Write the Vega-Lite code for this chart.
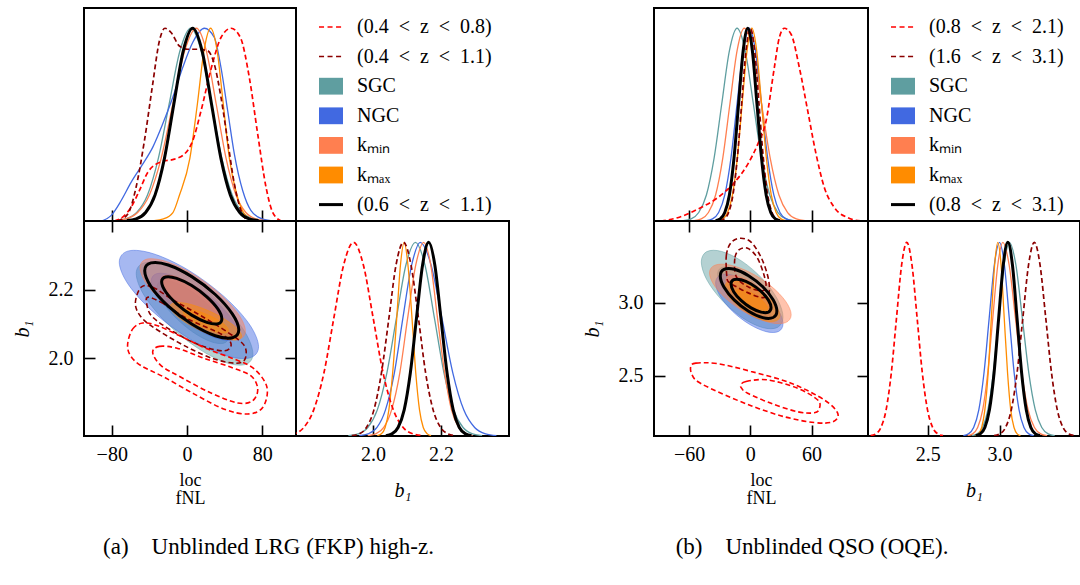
{
"$schema": "https://vega.github.io/schema/vega-lite/v6.json",
"padding": {"left": 11, "top": 7, "right": 0, "bottom": 0},
"background": "white",
"config": {
  "font": "Liberation Serif",
  "view": {"stroke": "black", "strokeWidth": 2},
  "axis": {"domain": false, "grid": false, "tickColor": "black", "tickWidth": 1.6, "tickSize": -11, "labelFont": "Liberation Serif", "labelFontSize": 20, "labelColor": "black", "labelPadding": 19, "titleFont": "Liberation Serif", "titleFontSize": 20, "titleFontWeight": "normal", "titleColor": "black"},
  "axisY": {"labelPadding": 22}
},
"datasets": {
"afn": [
{"s":"r","x":-77.2,"p":0},{"s":"r","x":-66.6,"p":0.028},{"s":"r","x":-59.5,"p":0.071},{"s":"r","x":-50.7,"p":0.157},{"s":"r","x":-41.8,"p":0.252},{"s":"r","x":-27.6,"p":0.307},{"s":"r","x":-13.5,"p":0.321},{"s":"r","x":-2.8,"p":0.347},{"s":"r","x":6,"p":0.416},{"s":"r","x":14.9,"p":0.572},{"s":"r","x":25.5,"p":0.788},{"s":"r","x":36.1,"p":0.952},{"s":"r","x":46.8,"p":1},{"s":"r","x":56.7,"p":0.952},{"s":"r","x":66.2,"p":0.744},{"s":"r","x":75.1,"p":0.451},{"s":"r","x":84,"p":0.174},{"s":"r","x":91,"p":0.045},{"s":"r","x":99.9,"p":0},
{"s":"d","x":-73.7,"p":0},{"s":"d","x":-63,"p":0.036},{"s":"d","x":-54.2,"p":0.174},{"s":"d","x":-45.3,"p":0.416},{"s":"d","x":-36.5,"p":0.71},{"s":"d","x":-29.4,"p":0.934},{"s":"d","x":-23.4,"p":1},{"s":"d","x":-17,"p":0.978},{"s":"d","x":-8.1,"p":0.908},{"s":"d","x":0.7,"p":0.891},{"s":"d","x":11.3,"p":0.891},{"s":"d","x":22,"p":0.883},{"s":"d","x":29,"p":0.813},{"s":"d","x":36.1,"p":0.641},{"s":"d","x":43.2,"p":0.416},{"s":"d","x":50.3,"p":0.192},{"s":"d","x":57.4,"p":0.054},{"s":"d","x":64.5,"p":0},
{"s":"S","x":-76.5,"p":0.002},{"s":"S","x":-65,"p":0.011},{"s":"S","x":-53.5,"p":0.044},{"s":"S","x":-42,"p":0.135},{"s":"S","x":-30.5,"p":0.325},{"s":"S","x":-19,"p":0.607},{"s":"S","x":-7.5,"p":0.883},{"s":"S","x":4,"p":1},{"s":"S","x":15,"p":0.883},{"s":"S","x":26,"p":0.607},{"s":"S","x":37,"p":0.325},{"s":"S","x":48,"p":0.135},{"s":"S","x":59,"p":0.044},{"s":"S","x":70,"p":0.011},{"s":"S","x":81,"p":0.002},
{"s":"N","x":-91.4,"p":0},{"s":"N","x":-80.8,"p":0.028},{"s":"N","x":-70.1,"p":0.105},{"s":"N","x":-59.5,"p":0.2},{"s":"N","x":-47.1,"p":0.295},{"s":"N","x":-36.5,"p":0.382},{"s":"N","x":-25.9,"p":0.503},{"s":"N","x":-15.2,"p":0.641},{"s":"N","x":-4.6,"p":0.796},{"s":"N","x":6,"p":0.926},{"s":"N","x":18.4,"p":1},{"s":"N","x":29,"p":0.952},{"s":"N","x":36.1,"p":0.796},{"s":"N","x":43.2,"p":0.572},{"s":"N","x":50.3,"p":0.347},{"s":"N","x":59.2,"p":0.157},{"s":"N","x":68,"p":0.054},{"s":"N","x":80.4,"p":0.01},{"s":"N","x":92.8,"p":0},
{"s":"n","x":-77.5,"p":0.002},{"s":"n","x":-65,"p":0.011},{"s":"n","x":-52.5,"p":0.044},{"s":"n","x":-40,"p":0.135},{"s":"n","x":-27.5,"p":0.325},{"s":"n","x":-15,"p":0.607},{"s":"n","x":-2.5,"p":0.883},{"s":"n","x":10,"p":1},{"s":"n","x":20.5,"p":0.883},{"s":"n","x":31,"p":0.607},{"s":"n","x":41.5,"p":0.325},{"s":"n","x":52,"p":0.135},{"s":"n","x":62.5,"p":0.044},{"s":"n","x":73,"p":0.011},{"s":"n","x":83.5,"p":0.002},
{"s":"m","x":-35,"p":0.002},{"s":"m","x":-25,"p":0.011},{"s":"m","x":-15,"p":0.044},{"s":"m","x":-8,"p":0.135},{"s":"m","x":3,"p":0.325},{"s":"m","x":11,"p":0.607},{"s":"m","x":18,"p":0.883},{"s":"m","x":25,"p":1},{"s":"m","x":32,"p":0.883},{"s":"m","x":38.5,"p":0.607},{"s":"m","x":45,"p":0.325},{"s":"m","x":53,"p":0.135},{"s":"m","x":60,"p":0.044},{"s":"m","x":67,"p":0.011},{"s":"m","x":74,"p":0.002},
{"s":"k","x":-64,"p":0.002},{"s":"k","x":-54,"p":0.011},{"s":"k","x":-44,"p":0.044},{"s":"k","x":-34,"p":0.135},{"s":"k","x":-24,"p":0.325},{"s":"k","x":-14,"p":0.607},{"s":"k","x":-4,"p":0.883},{"s":"k","x":6,"p":1},{"s":"k","x":16,"p":0.883},{"s":"k","x":26,"p":0.607},{"s":"k","x":36,"p":0.325},{"s":"k","x":46,"p":0.135},{"s":"k","x":56,"p":0.044},{"s":"k","x":66,"p":0.011},{"s":"k","x":76,"p":0.002}
],
"abn": [
{"s":"r","x":1.739,"p":0.002},{"s":"r","x":1.768,"p":0.011},{"s":"r","x":1.797,"p":0.044},{"s":"r","x":1.826,"p":0.135},{"s":"r","x":1.856,"p":0.325},{"s":"r","x":1.885,"p":0.607},{"s":"r","x":1.914,"p":0.883},{"s":"r","x":1.943,"p":1},{"s":"r","x":1.972,"p":0.883},{"s":"r","x":2.001,"p":0.607},{"s":"r","x":2.03,"p":0.325},{"s":"r","x":2.06,"p":0.135},{"s":"r","x":2.089,"p":0.044},{"s":"r","x":2.118,"p":0.011},{"s":"r","x":2.147,"p":0.002},
{"s":"d","x":1.938,"p":0.002},{"s":"d","x":1.96,"p":0.011},{"s":"d","x":1.981,"p":0.044},{"s":"d","x":2.003,"p":0.135},{"s":"d","x":2.025,"p":0.325},{"s":"d","x":2.047,"p":0.607},{"s":"d","x":2.068,"p":0.883},{"s":"d","x":2.09,"p":1},{"s":"d","x":2.112,"p":0.883},{"s":"d","x":2.134,"p":0.607},{"s":"d","x":2.155,"p":0.325},{"s":"d","x":2.177,"p":0.135},{"s":"d","x":2.199,"p":0.044},{"s":"d","x":2.221,"p":0.011},{"s":"d","x":2.242,"p":0.002},
{"s":"S","x":1.928,"p":0.002},{"s":"S","x":1.957,"p":0.011},{"s":"S","x":1.985,"p":0.044},{"s":"S","x":2.013,"p":0.135},{"s":"S","x":2.041,"p":0.325},{"s":"S","x":2.069,"p":0.607},{"s":"S","x":2.097,"p":0.883},{"s":"S","x":2.125,"p":1},{"s":"S","x":2.153,"p":0.883},{"s":"S","x":2.181,"p":0.607},{"s":"S","x":2.209,"p":0.325},{"s":"S","x":2.237,"p":0.135},{"s":"S","x":2.265,"p":0.044},{"s":"S","x":2.293,"p":0.011},{"s":"S","x":2.321,"p":0.002},
{"s":"N","x":1.96,"p":0.002},{"s":"N","x":1.986,"p":0.011},{"s":"N","x":2.012,"p":0.044},{"s":"N","x":2.037,"p":0.135},{"s":"N","x":2.063,"p":0.325},{"s":"N","x":2.088,"p":0.607},{"s":"N","x":2.114,"p":0.883},{"s":"N","x":2.139,"p":1},{"s":"N","x":2.171,"p":0.883},{"s":"N","x":2.203,"p":0.607},{"s":"N","x":2.235,"p":0.325},{"s":"N","x":2.267,"p":0.135},{"s":"N","x":2.299,"p":0.044},{"s":"N","x":2.331,"p":0.011},{"s":"N","x":2.363,"p":0.002},
{"s":"n","x":1.985,"p":0.002},{"s":"n","x":2.008,"p":0.011},{"s":"n","x":2.032,"p":0.044},{"s":"n","x":2.055,"p":0.135},{"s":"n","x":2.079,"p":0.325},{"s":"n","x":2.102,"p":0.607},{"s":"n","x":2.126,"p":0.883},{"s":"n","x":2.149,"p":1},{"s":"n","x":2.17,"p":0.883},{"s":"n","x":2.19,"p":0.607},{"s":"n","x":2.211,"p":0.325},{"s":"n","x":2.231,"p":0.135},{"s":"n","x":2.252,"p":0.044},{"s":"n","x":2.272,"p":0.011},{"s":"n","x":2.293,"p":0.002},
{"s":"m","x":2.013,"p":0.002},{"s":"m","x":2.025,"p":0.011},{"s":"m","x":2.036,"p":0.044},{"s":"m","x":2.047,"p":0.135},{"s":"m","x":2.058,"p":0.325},{"s":"m","x":2.07,"p":0.607},{"s":"m","x":2.081,"p":0.883},{"s":"m","x":2.092,"p":1},{"s":"m","x":2.103,"p":0.883},{"s":"m","x":2.115,"p":0.607},{"s":"m","x":2.126,"p":0.325},{"s":"m","x":2.137,"p":0.135},{"s":"m","x":2.148,"p":0.044},{"s":"m","x":2.16,"p":0.011},{"s":"m","x":2.171,"p":0.002},
{"s":"k","x":2.038,"p":0.002},{"s":"k","x":2.056,"p":0.011},{"s":"k","x":2.074,"p":0.044},{"s":"k","x":2.092,"p":0.135},{"s":"k","x":2.11,"p":0.325},{"s":"k","x":2.128,"p":0.607},{"s":"k","x":2.146,"p":0.883},{"s":"k","x":2.164,"p":1},{"s":"k","x":2.182,"p":0.883},{"s":"k","x":2.2,"p":0.607},{"s":"k","x":2.218,"p":0.325},{"s":"k","x":2.236,"p":0.135},{"s":"k","x":2.254,"p":0.044},{"s":"k","x":2.272,"p":0.011},{"s":"k","x":2.29,"p":0.002}
],
"acn": [
{"s":"S","l":"o","x":70,"y":2.013},{"s":"S","l":"o","x":61.7,"y":1.982},{"s":"S","l":"o","x":39,"y":1.99},{"s":"S","l":"o","x":8,"y":2.036},{"s":"S","l":"o","x":-23,"y":2.107},{"s":"S","l":"o","x":-45.7,"y":2.184},{"s":"S","l":"o","x":-54,"y":2.247},{"s":"S","l":"o","x":-45.7,"y":2.278},{"s":"S","l":"o","x":-23,"y":2.27},{"s":"S","l":"o","x":8,"y":2.224},{"s":"S","l":"o","x":39,"y":2.153},{"s":"S","l":"o","x":61.7,"y":2.076},
{"s":"S","l":"i","x":44,"y":2.063},{"s":"S","l":"i","x":38.9,"y":2.044},{"s":"S","l":"i","x":25,"y":2.049},{"s":"S","l":"i","x":6,"y":2.077},{"s":"S","l":"i","x":-13,"y":2.121},{"s":"S","l":"i","x":-26.9,"y":2.168},{"s":"S","l":"i","x":-32,"y":2.207},{"s":"S","l":"i","x":-26.9,"y":2.226},{"s":"S","l":"i","x":-13,"y":2.221},{"s":"S","l":"i","x":6,"y":2.193},{"s":"S","l":"i","x":25,"y":2.149},{"s":"S","l":"i","x":38.9,"y":2.102},
{"s":"N","l":"o","x":76,"y":2.034},{"s":"N","l":"o","x":66.1,"y":2.001},{"s":"N","l":"o","x":39,"y":2.01},{"s":"N","l":"o","x":2,"y":2.058},{"s":"N","l":"o","x":-35,"y":2.133},{"s":"N","l":"o","x":-62.1,"y":2.214},{"s":"N","l":"o","x":-72,"y":2.28},{"s":"N","l":"o","x":-62.1,"y":2.313},{"s":"N","l":"o","x":-35,"y":2.304},{"s":"N","l":"o","x":2,"y":2.256},{"s":"N","l":"o","x":39,"y":2.181},{"s":"N","l":"o","x":66.1,"y":2.1},
{"s":"N","l":"i","x":54,"y":2.074},{"s":"N","l":"i","x":47.8,"y":2.053},{"s":"N","l":"i","x":31,"y":2.059},{"s":"N","l":"i","x":8,"y":2.089},{"s":"N","l":"i","x":-15,"y":2.135},{"s":"N","l":"i","x":-31.8,"y":2.186},{"s":"N","l":"i","x":-38,"y":2.226},{"s":"N","l":"i","x":-31.8,"y":2.247},{"s":"N","l":"i","x":-15,"y":2.241},{"s":"N","l":"i","x":8,"y":2.211},{"s":"N","l":"i","x":31,"y":2.165},{"s":"N","l":"i","x":47.8,"y":2.114},
{"s":"n","l":"o","x":62,"y":2.08},{"s":"n","l":"o","x":54.5,"y":2.055},{"s":"n","l":"o","x":34,"y":2.062},{"s":"n","l":"o","x":6,"y":2.098},{"s":"n","l":"o","x":-22,"y":2.154},{"s":"n","l":"o","x":-42.5,"y":2.215},{"s":"n","l":"o","x":-50,"y":2.264},{"s":"n","l":"o","x":-42.5,"y":2.289},{"s":"n","l":"o","x":-22,"y":2.282},{"s":"n","l":"o","x":6,"y":2.246},{"s":"n","l":"o","x":34,"y":2.19},{"s":"n","l":"o","x":54.5,"y":2.129},
{"s":"n","l":"i","x":36,"y":2.125},{"s":"n","l":"i","x":31.7,"y":2.111},{"s":"n","l":"i","x":20,"y":2.115},{"s":"n","l":"i","x":4,"y":2.135},{"s":"n","l":"i","x":-12,"y":2.166},{"s":"n","l":"i","x":-23.7,"y":2.2},{"s":"n","l":"i","x":-28,"y":2.227},{"s":"n","l":"i","x":-23.7,"y":2.241},{"s":"n","l":"i","x":-12,"y":2.238},{"s":"n","l":"i","x":4,"y":2.217},{"s":"n","l":"i","x":20,"y":2.186},{"s":"n","l":"i","x":31.7,"y":2.152},
{"s":"m","l":"o","x":58,"y":2.065},{"s":"m","l":"o","x":52.9,"y":2.054},{"s":"m","l":"o","x":39,"y":2.057},{"s":"m","l":"o","x":20,"y":2.074},{"s":"m","l":"o","x":1,"y":2.1},{"s":"m","l":"o","x":-12.9,"y":2.128},{"s":"m","l":"o","x":-18,"y":2.151},{"s":"m","l":"o","x":-12.9,"y":2.162},{"s":"m","l":"o","x":1,"y":2.159},{"s":"m","l":"o","x":20,"y":2.142},{"s":"m","l":"o","x":39,"y":2.116},{"s":"m","l":"o","x":52.9,"y":2.088},
{"s":"m","l":"i","x":44,"y":2.082},{"s":"m","l":"i","x":40.8,"y":2.074},{"s":"m","l":"i","x":32,"y":2.076},{"s":"m","l":"i","x":20,"y":2.087},{"s":"m","l":"i","x":8,"y":2.103},{"s":"m","l":"i","x":-0.8,"y":2.12},{"s":"m","l":"i","x":-4,"y":2.135},{"s":"m","l":"i","x":-0.8,"y":2.142},{"s":"m","l":"i","x":8,"y":2.14},{"s":"m","l":"i","x":20,"y":2.129},{"s":"m","l":"i","x":32,"y":2.113},{"s":"m","l":"i","x":40.8,"y":2.096},
{"s":"d","l":"o","x":-48.9,"y":2.207},{"s":"d","l":"o","x":-36.5,"y":2.207},{"s":"d","l":"o","x":-13.5,"y":2.168},{"s":"d","l":"o","x":14.9,"y":2.124},{"s":"d","l":"o","x":43.2,"y":2.076},{"s":"d","l":"o","x":60.9,"y":2.037},{"s":"d","l":"o","x":61.6,"y":1.998},{"s":"d","l":"o","x":52.1,"y":1.986},{"s":"d","l":"o","x":29,"y":1.998},{"s":"d","l":"o","x":0.7,"y":2.032},{"s":"d","l":"o","x":-27.6,"y":2.076},{"s":"d","l":"o","x":-47.1,"y":2.115},{"s":"d","l":"o","x":-54.9,"y":2.158},
{"s":"d","l":"i","x":-41.8,"y":2.178},{"s":"d","l":"i","x":-27.6,"y":2.163},{"s":"d","l":"i","x":0.7,"y":2.115},{"s":"d","l":"i","x":36.1,"y":2.071},{"s":"d","l":"i","x":46.8,"y":2.042},{"s":"d","l":"i","x":39.7,"y":2.022},{"s":"d","l":"i","x":14.9,"y":2.037},{"s":"d","l":"i","x":-13.5,"y":2.076},{"s":"d","l":"i","x":-36.5,"y":2.12},{"s":"d","l":"i","x":-42.5,"y":2.154},
{"s":"r","l":"o","x":-63.1,"y":2.042},{"s":"r","l":"o","x":-57.7,"y":2.086},{"s":"r","l":"o","x":-47.1,"y":2.103},{"s":"r","l":"o","x":-31.2,"y":2.095},{"s":"r","l":"o","x":-6.4,"y":2.064},{"s":"r","l":"o","x":22,"y":2.027},{"s":"r","l":"o","x":50.3,"y":1.998},{"s":"r","l":"o","x":71.6,"y":1.969},{"s":"r","l":"o","x":85,"y":1.915},{"s":"r","l":"o","x":80.4,"y":1.857},{"s":"r","l":"o","x":64.5,"y":1.838},{"s":"r","l":"o","x":39.7,"y":1.852},{"s":"r","l":"o","x":7.8,"y":1.896},{"s":"r","l":"o","x":-24.1,"y":1.945},{"s":"r","l":"o","x":-48.9,"y":1.979},{"s":"r","l":"o","x":-60.2,"y":2.008},
{"s":"r","l":"i","x":-36.5,"y":2.017},{"s":"r","l":"i","x":-29.4,"y":2.035},{"s":"r","l":"i","x":-9.9,"y":2.029},{"s":"r","l":"i","x":18.4,"y":2.0},{"s":"r","l":"i","x":46.8,"y":1.974},{"s":"r","l":"i","x":68,"y":1.949},{"s":"r","l":"i","x":75.1,"y":1.911},{"s":"r","l":"i","x":69.8,"y":1.877},{"s":"r","l":"i","x":53.8,"y":1.87},{"s":"r","l":"i","x":25.5,"y":1.899},{"s":"r","l":"i","x":-6.4,"y":1.945},{"s":"r","l":"i","x":-27.6,"y":1.979},
{"s":"k","l":"o","x":55,"y":2.083},{"s":"k","l":"o","x":48.3,"y":2.06},{"s":"k","l":"o","x":30,"y":2.066},{"s":"k","l":"o","x":5,"y":2.1},{"s":"k","l":"o","x":-20,"y":2.152},{"s":"k","l":"o","x":-38.3,"y":2.209},{"s":"k","l":"o","x":-45,"y":2.255},{"s":"k","l":"o","x":-38.3,"y":2.278},{"s":"k","l":"o","x":-20,"y":2.272},{"s":"k","l":"o","x":5,"y":2.238},{"s":"k","l":"o","x":30,"y":2.186},{"s":"k","l":"o","x":48.3,"y":2.129},
{"s":"k","l":"i","x":37,"y":2.115},{"s":"k","l":"i","x":32.7,"y":2.101},{"s":"k","l":"i","x":21,"y":2.105},{"s":"k","l":"i","x":5,"y":2.126},{"s":"k","l":"i","x":-11,"y":2.159},{"s":"k","l":"i","x":-22.7,"y":2.194},{"s":"k","l":"i","x":-27,"y":2.223},{"s":"k","l":"i","x":-22.7,"y":2.237},{"s":"k","l":"i","x":-11,"y":2.233},{"s":"k","l":"i","x":5,"y":2.212},{"s":"k","l":"i","x":21,"y":2.179},{"s":"k","l":"i","x":32.7,"y":2.144}
],
"bfn": [
{"s":"r","x":-87.6,"p":0},{"s":"r","x":-71.2,"p":0.017},{"s":"r","x":-51.6,"p":0.061},{"s":"r","x":-32,"p":0.121},{"s":"r","x":-15.7,"p":0.199},{"s":"r","x":-2.6,"p":0.294},{"s":"r","x":7.2,"p":0.398},{"s":"r","x":15.4,"p":0.519},{"s":"r","x":23.5,"p":0.796},{"s":"r","x":28.4,"p":0.952},{"s":"r","x":33.3,"p":1},{"s":"r","x":39.9,"p":0.969},{"s":"r","x":48,"p":0.796},{"s":"r","x":56.2,"p":0.571},{"s":"r","x":64.4,"p":0.346},{"s":"r","x":72.5,"p":0.173},{"s":"r","x":82.4,"p":0.069},{"s":"r","x":95.4,"p":0.017},{"s":"r","x":108.5,"p":0},
{"s":"d","x":-29.75,"p":0.002},{"s":"d","x":-25.5,"p":0.011},{"s":"d","x":-21.25,"p":0.044},{"s":"d","x":-17,"p":0.135},{"s":"d","x":-12.75,"p":0.325},{"s":"d","x":-8.5,"p":0.607},{"s":"d","x":-4.25,"p":0.883},{"s":"d","x":0,"p":1},{"s":"d","x":4.25,"p":0.883},{"s":"d","x":8.5,"p":0.607},{"s":"d","x":12.75,"p":0.325},{"s":"d","x":17,"p":0.135},{"s":"d","x":21.25,"p":0.044},{"s":"d","x":25.5,"p":0.011},{"s":"d","x":29.75,"p":0.002},
{"s":"S","x":-65.5,"p":0.002},{"s":"S","x":-58,"p":0.011},{"s":"S","x":-50.5,"p":0.044},{"s":"S","x":-43,"p":0.135},{"s":"S","x":-35.5,"p":0.325},{"s":"S","x":-28,"p":0.607},{"s":"S","x":-20.5,"p":0.883},{"s":"S","x":-13,"p":1},{"s":"S","x":-5,"p":0.883},{"s":"S","x":3,"p":0.607},{"s":"S","x":11,"p":0.325},{"s":"S","x":19,"p":0.135},{"s":"S","x":27,"p":0.044},{"s":"S","x":35,"p":0.011},{"s":"S","x":43,"p":0.002},
{"s":"N","x":-43,"p":0.002},{"s":"N","x":-37,"p":0.011},{"s":"N","x":-31,"p":0.044},{"s":"N","x":-25,"p":0.135},{"s":"N","x":-19,"p":0.325},{"s":"N","x":-13,"p":0.607},{"s":"N","x":-7,"p":0.883},{"s":"N","x":-1,"p":1},{"s":"N","x":5,"p":0.883},{"s":"N","x":11,"p":0.607},{"s":"N","x":17,"p":0.325},{"s":"N","x":23,"p":0.135},{"s":"N","x":29,"p":0.044},{"s":"N","x":35,"p":0.011},{"s":"N","x":41,"p":0.002},
{"s":"n","x":-55,"p":0.002},{"s":"n","x":-48,"p":0.011},{"s":"n","x":-41,"p":0.044},{"s":"n","x":-34,"p":0.135},{"s":"n","x":-27,"p":0.325},{"s":"n","x":-20,"p":0.607},{"s":"n","x":-13,"p":0.883},{"s":"n","x":-6,"p":1},{"s":"n","x":2.5,"p":0.883},{"s":"n","x":11,"p":0.607},{"s":"n","x":19.5,"p":0.325},{"s":"n","x":28,"p":0.135},{"s":"n","x":36.5,"p":0.044},{"s":"n","x":45,"p":0.011},{"s":"n","x":53.5,"p":0.002},
{"s":"m","x":-31.75,"p":0.002},{"s":"m","x":-27,"p":0.011},{"s":"m","x":-22.25,"p":0.044},{"s":"m","x":-17.5,"p":0.135},{"s":"m","x":-12.75,"p":0.325},{"s":"m","x":-8,"p":0.607},{"s":"m","x":-3.25,"p":0.883},{"s":"m","x":1.5,"p":1},{"s":"m","x":6.25,"p":0.883},{"s":"m","x":11,"p":0.607},{"s":"m","x":15.75,"p":0.325},{"s":"m","x":20.5,"p":0.135},{"s":"m","x":25.25,"p":0.044},{"s":"m","x":30,"p":0.011},{"s":"m","x":34.75,"p":0.002},
{"s":"k","x":-34,"p":0.002},{"s":"k","x":-29.5,"p":0.011},{"s":"k","x":-25,"p":0.044},{"s":"k","x":-20.5,"p":0.135},{"s":"k","x":-16,"p":0.325},{"s":"k","x":-11.5,"p":0.607},{"s":"k","x":-7,"p":0.883},{"s":"k","x":-2.5,"p":1},{"s":"k","x":2,"p":0.883},{"s":"k","x":6.5,"p":0.607},{"s":"k","x":11,"p":0.325},{"s":"k","x":15.5,"p":0.135},{"s":"k","x":20,"p":0.044},{"s":"k","x":24.5,"p":0.011},{"s":"k","x":29,"p":0.002}
],
"bbn": [
{"s":"r","x":2.103,"p":0.002},{"s":"r","x":2.139,"p":0.011},{"s":"r","x":2.175,"p":0.044},{"s":"r","x":2.211,"p":0.135},{"s":"r","x":2.247,"p":0.325},{"s":"r","x":2.283,"p":0.607},{"s":"r","x":2.319,"p":0.883},{"s":"r","x":2.355,"p":1},{"s":"r","x":2.391,"p":0.883},{"s":"r","x":2.427,"p":0.607},{"s":"r","x":2.463,"p":0.325},{"s":"r","x":2.499,"p":0.135},{"s":"r","x":2.535,"p":0.044},{"s":"r","x":2.571,"p":0.011},{"s":"r","x":2.607,"p":0.002},
{"s":"d","x":2.962,"p":0.002},{"s":"d","x":3.002,"p":0.011},{"s":"d","x":3.042,"p":0.044},{"s":"d","x":3.082,"p":0.135},{"s":"d","x":3.122,"p":0.325},{"s":"d","x":3.162,"p":0.607},{"s":"d","x":3.202,"p":0.883},{"s":"d","x":3.242,"p":1},{"s":"d","x":3.282,"p":0.883},{"s":"d","x":3.322,"p":0.607},{"s":"d","x":3.362,"p":0.325},{"s":"d","x":3.402,"p":0.135},{"s":"d","x":3.442,"p":0.044},{"s":"d","x":3.482,"p":0.011},{"s":"d","x":3.522,"p":0.002},
{"s":"S","x":2.807,"p":0.002},{"s":"S","x":2.844,"p":0.011},{"s":"S","x":2.882,"p":0.044},{"s":"S","x":2.919,"p":0.135},{"s":"S","x":2.957,"p":0.325},{"s":"S","x":2.994,"p":0.607},{"s":"S","x":3.032,"p":0.883},{"s":"S","x":3.069,"p":1},{"s":"S","x":3.114,"p":0.883},{"s":"S","x":3.159,"p":0.607},{"s":"S","x":3.204,"p":0.325},{"s":"S","x":3.249,"p":0.135},{"s":"S","x":3.294,"p":0.044},{"s":"S","x":3.339,"p":0.011},{"s":"S","x":3.384,"p":0.002},
{"s":"N","x":2.748,"p":0.002},{"s":"N","x":2.784,"p":0.011},{"s":"N","x":2.82,"p":0.044},{"s":"N","x":2.856,"p":0.135},{"s":"N","x":2.892,"p":0.325},{"s":"N","x":2.928,"p":0.607},{"s":"N","x":2.964,"p":0.883},{"s":"N","x":3.0,"p":1},{"s":"N","x":3.034,"p":0.883},{"s":"N","x":3.068,"p":0.607},{"s":"N","x":3.102,"p":0.325},{"s":"N","x":3.136,"p":0.135},{"s":"N","x":3.17,"p":0.044},{"s":"N","x":3.204,"p":0.011},{"s":"N","x":3.238,"p":0.002},
{"s":"n","x":2.778,"p":0.002},{"s":"n","x":2.813,"p":0.011},{"s":"n","x":2.848,"p":0.044},{"s":"n","x":2.883,"p":0.135},{"s":"n","x":2.918,"p":0.325},{"s":"n","x":2.953,"p":0.607},{"s":"n","x":2.988,"p":0.883},{"s":"n","x":3.023,"p":1},{"s":"n","x":3.067,"p":0.883},{"s":"n","x":3.111,"p":0.607},{"s":"n","x":3.155,"p":0.325},{"s":"n","x":3.199,"p":0.135},{"s":"n","x":3.243,"p":0.044},{"s":"n","x":3.287,"p":0.011},{"s":"n","x":3.331,"p":0.002},
{"s":"m","x":2.831,"p":0.002},{"s":"m","x":2.853,"p":0.011},{"s":"m","x":2.876,"p":0.044},{"s":"m","x":2.898,"p":0.135},{"s":"m","x":2.921,"p":0.325},{"s":"m","x":2.943,"p":0.607},{"s":"m","x":2.966,"p":0.883},{"s":"m","x":2.988,"p":1},{"s":"m","x":3.011,"p":0.883},{"s":"m","x":3.033,"p":0.607},{"s":"m","x":3.056,"p":0.325},{"s":"m","x":3.078,"p":0.135},{"s":"m","x":3.101,"p":0.044},{"s":"m","x":3.123,"p":0.011},{"s":"m","x":3.146,"p":0.002},
{"s":"k","x":2.834,"p":0.002},{"s":"k","x":2.866,"p":0.011},{"s":"k","x":2.898,"p":0.044},{"s":"k","x":2.93,"p":0.135},{"s":"k","x":2.962,"p":0.325},{"s":"k","x":2.994,"p":0.607},{"s":"k","x":3.026,"p":0.883},{"s":"k","x":3.058,"p":1},{"s":"k","x":3.09,"p":0.883},{"s":"k","x":3.122,"p":0.607},{"s":"k","x":3.154,"p":0.325},{"s":"k","x":3.186,"p":0.135},{"s":"k","x":3.218,"p":0.044},{"s":"k","x":3.25,"p":0.011},{"s":"k","x":3.282,"p":0.002}
],
"bcn": [
{"s":"S","l":"o","x":32,"y":2.901},{"s":"S","l":"o","x":26.6,"y":2.83},{"s":"S","l":"o","x":12,"y":2.829},{"s":"S","l":"o","x":-8,"y":2.897},{"s":"S","l":"o","x":-28,"y":3.018},{"s":"S","l":"o","x":-42.6,"y":3.157},{"s":"S","l":"o","x":-48,"y":3.279},{"s":"S","l":"o","x":-42.6,"y":3.35},{"s":"S","l":"o","x":-28,"y":3.351},{"s":"S","l":"o","x":-8,"y":3.283},{"s":"S","l":"o","x":12,"y":3.162},{"s":"S","l":"o","x":26.6,"y":3.023},
{"s":"S","l":"i","x":18,"y":2.965},{"s":"S","l":"i","x":14.65,"y":2.921},{"s":"S","l":"i","x":5.5,"y":2.92},{"s":"S","l":"i","x":-7,"y":2.962},{"s":"S","l":"i","x":-19.5,"y":3.036},{"s":"S","l":"i","x":-28.65,"y":3.121},{"s":"S","l":"i","x":-32,"y":3.196},{"s":"S","l":"i","x":-28.65,"y":3.239},{"s":"S","l":"i","x":-19.5,"y":3.24},{"s":"S","l":"i","x":-7,"y":3.198},{"s":"S","l":"i","x":5.5,"y":3.124},{"s":"S","l":"i","x":14.65,"y":3.039},
{"s":"N","l":"o","x":32,"y":2.855},{"s":"N","l":"o","x":27.6,"y":2.802},{"s":"N","l":"o","x":15.5,"y":2.801},{"s":"N","l":"o","x":-1,"y":2.852},{"s":"N","l":"o","x":-17.5,"y":2.941},{"s":"N","l":"o","x":-29.6,"y":3.045},{"s":"N","l":"o","x":-34,"y":3.135},{"s":"N","l":"o","x":-29.6,"y":3.188},{"s":"N","l":"o","x":-17.5,"y":3.189},{"s":"N","l":"o","x":-1,"y":3.138},{"s":"N","l":"o","x":15.5,"y":3.049},{"s":"N","l":"o","x":27.6,"y":2.945},
{"s":"N","l":"i","x":20,"y":2.916},{"s":"N","l":"i","x":17.3,"y":2.884},{"s":"N","l":"i","x":10,"y":2.884},{"s":"N","l":"i","x":0,"y":2.914},{"s":"N","l":"i","x":-10,"y":2.968},{"s":"N","l":"i","x":-17.3,"y":3.03},{"s":"N","l":"i","x":-20,"y":3.084},{"s":"N","l":"i","x":-17.3,"y":3.116},{"s":"N","l":"i","x":-10,"y":3.116},{"s":"N","l":"i","x":0,"y":3.086},{"s":"N","l":"i","x":10,"y":3.032},{"s":"N","l":"i","x":17.3,"y":2.97},
{"s":"n","l":"o","x":40,"y":2.917},{"s":"n","l":"o","x":34.6,"y":2.863},{"s":"n","l":"o","x":20,"y":2.862},{"s":"n","l":"o","x":0,"y":2.914},{"s":"n","l":"o","x":-20,"y":3.005},{"s":"n","l":"o","x":-34.6,"y":3.111},{"s":"n","l":"o","x":-40,"y":3.204},{"s":"n","l":"o","x":-34.6,"y":3.257},{"s":"n","l":"o","x":-20,"y":3.258},{"s":"n","l":"o","x":0,"y":3.206},{"s":"n","l":"o","x":20,"y":3.115},{"s":"n","l":"o","x":34.6,"y":3.009},
{"s":"n","l":"i","x":20,"y":2.99},{"s":"n","l":"i","x":17.05,"y":2.959},{"s":"n","l":"i","x":9,"y":2.959},{"s":"n","l":"i","x":-2,"y":2.988},{"s":"n","l":"i","x":-13,"y":3.039},{"s":"n","l":"i","x":-21.05,"y":3.099},{"s":"n","l":"i","x":-24,"y":3.151},{"s":"n","l":"i","x":-21.05,"y":3.181},{"s":"n","l":"i","x":-13,"y":3.181},{"s":"n","l":"i","x":-2,"y":3.152},{"s":"n","l":"i","x":9,"y":3.101},{"s":"n","l":"i","x":17.05,"y":3.041},
{"s":"m","l":"o","x":29,"y":2.912},{"s":"m","l":"o","x":25.4,"y":2.875},{"s":"m","l":"o","x":15.5,"y":2.874},{"s":"m","l":"o","x":2,"y":2.91},{"s":"m","l":"o","x":-11.5,"y":2.972},{"s":"m","l":"o","x":-21.4,"y":3.045},{"s":"m","l":"o","x":-25,"y":3.108},{"s":"m","l":"o","x":-21.4,"y":3.145},{"s":"m","l":"o","x":-11.5,"y":3.146},{"s":"m","l":"o","x":2,"y":3.11},{"s":"m","l":"o","x":15.5,"y":3.048},{"s":"m","l":"o","x":25.4,"y":2.975},
{"s":"m","l":"i","x":17,"y":2.954},{"s":"m","l":"i","x":14.9,"y":2.933},{"s":"m","l":"i","x":9,"y":2.933},{"s":"m","l":"i","x":1,"y":2.953},{"s":"m","l":"i","x":-7,"y":2.989},{"s":"m","l":"i","x":-12.9,"y":3.03},{"s":"m","l":"i","x":-15,"y":3.066},{"s":"m","l":"i","x":-12.9,"y":3.087},{"s":"m","l":"i","x":-7,"y":3.087},{"s":"m","l":"i","x":1,"y":3.067},{"s":"m","l":"i","x":9,"y":3.031},{"s":"m","l":"i","x":14.9,"y":2.99},
{"s":"d","l":"o","x":-22.9,"y":3.173},{"s":"d","l":"o","x":-23.5,"y":3.323},{"s":"d","l":"o","x":-19,"y":3.41},{"s":"d","l":"o","x":-9.8,"y":3.442},{"s":"d","l":"o","x":0.7,"y":3.415},{"s":"d","l":"o","x":10.5,"y":3.311},{"s":"d","l":"o","x":17,"y":3.184},{"s":"d","l":"o","x":18.6,"y":3.081},{"s":"d","l":"o","x":13.7,"y":3.035},{"s":"d","l":"o","x":0.7,"y":3.058},{"s":"d","l":"o","x":-12.4,"y":3.104},{"s":"d","l":"o","x":-20.6,"y":3.138},
{"s":"d","l":"i","x":-15,"y":3.207},{"s":"d","l":"i","x":-15,"y":3.311},{"s":"d","l":"i","x":-10.8,"y":3.364},{"s":"d","l":"i","x":-2.6,"y":3.373},{"s":"d","l":"i","x":6.5,"y":3.311},{"s":"d","l":"i","x":13.1,"y":3.196},{"s":"d","l":"i","x":15.4,"y":3.104},{"s":"d","l":"i","x":10.5,"y":3.081},{"s":"d","l":"i","x":-1,"y":3.104},{"s":"d","l":"i","x":-10.8,"y":3.15},
{"s":"r","l":"o","x":-58.2,"y":2.562},{"s":"r","l":"o","x":-53.3,"y":2.585},{"s":"r","l":"o","x":-32,"y":2.581},{"s":"r","l":"o","x":0.7,"y":2.528},{"s":"r","l":"o","x":39.9,"y":2.447},{"s":"r","l":"o","x":72.5,"y":2.332},{"s":"r","l":"o","x":85.6,"y":2.24},{"s":"r","l":"o","x":80.7,"y":2.182},{"s":"r","l":"o","x":62.7,"y":2.177},{"s":"r","l":"o","x":33.3,"y":2.217},{"s":"r","l":"o","x":0.7,"y":2.293},{"s":"r","l":"o","x":-32,"y":2.389},{"s":"r","l":"o","x":-51.6,"y":2.459},{"s":"r","l":"o","x":-57.5,"y":2.512},
{"s":"r","l":"i","x":-9.2,"y":2.435},{"s":"r","l":"i","x":-4.2,"y":2.459},{"s":"r","l":"i","x":17,"y":2.47},{"s":"r","l":"i","x":46.4,"y":2.412},{"s":"r","l":"i","x":66,"y":2.332},{"s":"r","l":"i","x":67.6,"y":2.274},{"s":"r","l":"i","x":62.7,"y":2.244},{"s":"r","l":"i","x":46.4,"y":2.251},{"s":"r","l":"i","x":20.3,"y":2.309},{"s":"r","l":"i","x":-2.6,"y":2.378},{"s":"r","l":"i","x":-8.5,"y":2.412},
{"s":"k","l":"o","x":26,"y":2.943},{"s":"k","l":"o","x":22.3,"y":2.898},{"s":"k","l":"o","x":12.2,"y":2.897},{"s":"k","l":"o","x":-1.7,"y":2.941},{"s":"k","l":"o","x":-15.6,"y":3.017},{"s":"k","l":"o","x":-25.7,"y":3.106},{"s":"k","l":"o","x":-29.4,"y":3.183},{"s":"k","l":"o","x":-25.7,"y":3.228},{"s":"k","l":"o","x":-15.6,"y":3.229},{"s":"k","l":"o","x":-1.7,"y":3.185},{"s":"k","l":"o","x":12.2,"y":3.109},{"s":"k","l":"o","x":22.3,"y":3.02},
{"s":"k","l":"i","x":20.3,"y":2.966},{"s":"k","l":"i","x":17.7,"y":2.935},{"s":"k","l":"i","x":10.5,"y":2.935},{"s":"k","l":"i","x":0.7,"y":2.964},{"s":"k","l":"i","x":-9.1,"y":3.015},{"s":"k","l":"i","x":-16.3,"y":3.075},{"s":"k","l":"i","x":-18.9,"y":3.127},{"s":"k","l":"i","x":-16.3,"y":3.157},{"s":"k","l":"i","x":-9.1,"y":3.157},{"s":"k","l":"i","x":0.7,"y":3.128},{"s":"k","l":"i","x":10.5,"y":3.077},{"s":"k","l":"i","x":17.7,"y":3.017}
],
"legA": [{"label":"(0.4\u2002<\u2002z\u2002<\u20020.8)"},{"label":"(0.4\u2002<\u2002z\u2002<\u20021.1)"},{"label":"SGC"},{"label":"NGC"},{"label":"k\u2098\u1d62\u2099"},{"label":"k\u2098\u2090\u2093"},{"label":"(0.6\u2002<\u2002z\u2002<\u20021.1)"}],
"legB": [{"label":"(0.8\u2002<\u2002z\u2002<\u20022.1)"},{"label":"(1.6\u2002<\u2002z\u2002<\u20023.1)"},{"label":"SGC"},{"label":"NGC"},{"label":"k\u2098\u1d62\u2099"},{"label":"k\u2098\u2090\u2093"},{"label":"(0.8\u2002<\u2002z\u2002<\u20023.1)"}]
},
"spacing": 71,
"resolve": {"scale": {"color": "independent", "shape": "independent"}},
"hconcat": [
{
 "columns": 2, "spacing": 0, "bounds": "flush",
 "resolve": {"scale": {"color": "independent", "shape": "independent"}},
 "title": {"text": "(a)\u2003Unblinded LRG (FKP) high-z.", "orient": "bottom", "anchor": "middle", "font": "Liberation Serif", "fontSize": 23, "fontWeight": "normal", "color": "black", "offset": 28, "dx": 8},
 "concat": [
  {
   "width": 212, "height": 213,
   "data": {"name": "afn"},
   "encoding": {
     "x": {"field": "x", "type": "quantitative", "scale": {"domain": [-109.5, 115.8], "nice": false, "zero": false}, "axis": {"values": [-80, 0, 80], "labels": false, "title": null}},
     "y": {"field": "p", "type": "quantitative", "scale": {"domain": [0, 1.105], "nice": false}, "axis": null},
     "color": {"field": "s", "type": "nominal", "scale": {"domain": ["r","d","S","N","n","m","k"], "range": ["#ff0000","#8b0000","#5f9ea0","#4169e1","#ff7f50","#ff8c00","#000000"]}, "legend": null}
   },
   "layer": [
     {"transform": [{"filter": "datum.s=='S'||datum.s=='N'||datum.s=='n'||datum.s=='m'"}], "mark": {"type": "line", "interpolate": "monotone", "strokeWidth": 1.3, "clip": true}},
     {"transform": [{"filter": "datum.s=='r'||datum.s=='d'"}], "mark": {"type": "line", "interpolate": "monotone", "strokeWidth": 1.7, "strokeDash": [5, 3], "clip": true}},
     {"transform": [{"filter": "datum.s=='k'"}], "mark": {"type": "line", "interpolate": "monotone", "strokeWidth": 3, "clip": true}}
   ]
  },
  {
   "width": 213, "height": 213,
   "view": {"stroke": null},
   "data": {"name": "legA"},
   "mark": {"type": "point", "filled": true, "size": 0, "opacity": 1},
   "encoding": {
     "color": {"field": "label", "type": "nominal", "scale": {"domain": ["(0.4\u2002<\u2002z\u2002<\u20020.8)","(0.4\u2002<\u2002z\u2002<\u20021.1)","SGC","NGC","k\u2098\u1d62\u2099","k\u2098\u2090\u2093","(0.6\u2002<\u2002z\u2002<\u20021.1)"], "range": ["#ff0000","#8b0000","#5f9ea0","#4169e1","#ff7f50","#ff8c00","#000000"]}, "legend": {"orient": "none", "legendX": 23, "legendY": 7, "title": null, "labelFont": "Liberation Serif", "labelFontSize": 20, "labelColor": "black", "symbolSize": 576, "symbolStrokeWidth": 0, "rowPadding": 7.6, "labelOffset": 14, "labelLimit": 0}},
     "shape": {"field": "label", "type": "nominal", "scale": {"domain": ["(0.4\u2002<\u2002z\u2002<\u20020.8)","(0.4\u2002<\u2002z\u2002<\u20021.1)","SGC","NGC","k\u2098\u1d62\u2099","k\u2098\u2090\u2093","(0.6\u2002<\u2002z\u2002<\u20021.1)"], "range": ["M-1,-0.0625H-0.58V0.0625H-1Z M-0.29,-0.0625H0.13V0.0625H-0.29Z M0.42,-0.0625H0.84V0.0625H0.42Z","M-1,-0.0625H-0.58V0.0625H-1Z M-0.29,-0.0625H0.13V0.0625H-0.29Z M0.42,-0.0625H0.84V0.0625H0.42Z","M-1,-0.7H1V0.7H-1Z","M-1,-0.7H1V0.7H-1Z","M-1,-0.7H1V0.7H-1Z","M-1,-0.7H1V0.7H-1Z","M-1,-0.125H1V0.125H-1Z"]}, "legend": {"orient": "none", "legendX": 23, "legendY": 7, "title": null, "labelFont": "Liberation Serif", "labelFontSize": 20, "labelColor": "black", "symbolSize": 576, "symbolStrokeWidth": 0, "rowPadding": 7.6, "labelOffset": 14, "labelLimit": 0}}
   }
  },
  {
   "width": 212, "height": 215,
   "data": {"name": "acn"},
   "encoding": {
     "x": {"field": "x", "type": "quantitative", "scale": {"domain": [-109.5, 115.8], "nice": false, "zero": false}, "axis": null},
     "y": {"field": "y", "type": "quantitative", "scale": {"domain": [1.774, 2.4], "nice": false, "zero": false}, "axis": null},
     "detail": {"field": "l"},
     "order": {"value": null}
   },
   "layer": [
     {"transform": [{"filter": "datum.s=='S'"}], "mark": {"type": "line", "interpolate": "cardinal-closed", "fill": "#5f9ea0", "fillOpacity": 0.47, "stroke": "#5f9ea0", "strokeWidth": 0.8, "strokeOpacity": 0.6, "clip": true},
      "encoding": {
        "x": {"field": "x", "type": "quantitative", "scale": {"domain": [-109.5, 115.8], "nice": false, "zero": false}, "axis": {"orient": "bottom", "values": [-80, 0, 80], "title": ["\u2007loc", "fNL"], "titleFontSize": 18, "titleLineHeight": 18, "titlePadding": 7}},
        "y": {"field": "y", "type": "quantitative", "scale": {"domain": [1.774, 2.4], "nice": false, "zero": false}, "axis": {"orient": "left", "values": [2.0, 2.2], "format": ".1f", "title": "b\u2081", "titleFontStyle": "italic", "titlePadding": 16}}
      }},
     {"transform": [{"filter": "datum.s=='N'"}], "mark": {"type": "line", "interpolate": "cardinal-closed", "fill": "#4169e1", "fillOpacity": 0.47, "stroke": "#4169e1", "strokeWidth": 0.8, "strokeOpacity": 0.6, "clip": true}},
     {"transform": [{"filter": "datum.s=='n'"}], "mark": {"type": "line", "interpolate": "cardinal-closed", "fill": "#ff7f50", "fillOpacity": 0.47, "stroke": "#ff7f50", "strokeWidth": 0.8, "strokeOpacity": 0.6, "clip": true}},
     {"transform": [{"filter": "datum.s=='m'"}], "mark": {"type": "line", "interpolate": "cardinal-closed", "fill": "#ff8c00", "fillOpacity": 0.47, "stroke": "#ff8c00", "strokeWidth": 0.8, "strokeOpacity": 0.6, "clip": true}},
     {"transform": [{"filter": "datum.s=='r'||datum.s=='d'"}], "mark": {"type": "line", "interpolate": "cardinal-closed", "strokeWidth": 1.6, "strokeDash": [5, 3], "clip": true},
      "encoding": {"color": {"field": "s", "type": "nominal", "scale": {"domain": ["r","d","S","N","n","m","k"], "range": ["#ff0000","#8b0000","#5f9ea0","#4169e1","#ff7f50","#ff8c00","#000000"]}, "legend": null}}},
     {"transform": [{"filter": "datum.s=='k'"}], "mark": {"type": "line", "interpolate": "cardinal-closed", "strokeWidth": 3, "stroke": "black", "clip": true},
      "encoding": {
        "x": {"field": "x", "type": "quantitative", "scale": {"domain": [-109.5, 115.8], "nice": false, "zero": false}, "axis": {"orient": "top", "values": [-80, 0, 80], "labels": false, "title": null}},
        "y": {"field": "y", "type": "quantitative", "scale": {"domain": [1.774, 2.4], "nice": false, "zero": false}, "axis": {"orient": "right", "values": [2.0, 2.2], "labels": false, "title": null}}
      }}
   ],
   "resolve": {"axis": {"x": "independent", "y": "independent"}}
  },
  {
   "width": 213, "height": 215,
   "data": {"name": "abn"},
   "encoding": {
     "x": {"field": "x", "type": "quantitative", "scale": {"domain": [1.774, 2.4], "nice": false, "zero": false}, "axis": {"values": [2.0, 2.2], "format": ".1f", "title": "b\u2081", "titleFontStyle": "italic", "titlePadding": 16}},
     "y": {"field": "p", "type": "quantitative", "scale": {"domain": [0, 1.11], "nice": false}, "axis": null},
     "color": {"field": "s", "type": "nominal", "scale": {"domain": ["r","d","S","N","n","m","k"], "range": ["#ff0000","#8b0000","#5f9ea0","#4169e1","#ff7f50","#ff8c00","#000000"]}, "legend": null}
   },
   "layer": [
     {"transform": [{"filter": "datum.s=='S'||datum.s=='N'||datum.s=='n'||datum.s=='m'"}], "mark": {"type": "line", "interpolate": "monotone", "strokeWidth": 1.3, "clip": true}},
     {"transform": [{"filter": "datum.s=='r'||datum.s=='d'"}], "mark": {"type": "line", "interpolate": "monotone", "strokeWidth": 1.7, "strokeDash": [5, 3], "clip": true}},
     {"transform": [{"filter": "datum.s=='k'"}], "mark": {"type": "line", "interpolate": "monotone", "strokeWidth": 3, "clip": true}}
   ]
  }
 ]
},
{
 "columns": 2, "spacing": 0, "bounds": "flush",
 "resolve": {"scale": {"color": "independent", "shape": "independent"}},
 "title": {"text": "(b)\u2003Unblinded QSO (OQE).", "orient": "bottom", "anchor": "middle", "font": "Liberation Serif", "fontSize": 23, "fontWeight": "normal", "color": "black", "offset": 28, "dx": -19},
 "concat": [
  {
   "width": 214, "height": 213,
   "data": {"name": "bfn"},
   "encoding": {
     "x": {"field": "x", "type": "quantitative", "scale": {"domain": [-94.3, 115.2], "nice": false, "zero": false}, "axis": {"values": [-60, 0, 60], "labels": false, "title": null}},
     "y": {"field": "p", "type": "quantitative", "scale": {"domain": [0, 1.105], "nice": false}, "axis": null},
     "color": {"field": "s", "type": "nominal", "scale": {"domain": ["r","d","S","N","n","m","k"], "range": ["#ff0000","#8b0000","#5f9ea0","#4169e1","#ff7f50","#ff8c00","#000000"]}, "legend": null}
   },
   "layer": [
     {"transform": [{"filter": "datum.s=='S'||datum.s=='N'||datum.s=='n'||datum.s=='m'"}], "mark": {"type": "line", "interpolate": "monotone", "strokeWidth": 1.3, "clip": true}},
     {"transform": [{"filter": "datum.s=='r'||datum.s=='d'"}], "mark": {"type": "line", "interpolate": "monotone", "strokeWidth": 1.7, "strokeDash": [5, 3], "clip": true}},
     {"transform": [{"filter": "datum.s=='k'"}], "mark": {"type": "line", "interpolate": "monotone", "strokeWidth": 3, "clip": true}}
   ]
  },
  {
   "width": 212, "height": 213,
   "view": {"stroke": null},
   "data": {"name": "legB"},
   "mark": {"type": "point", "filled": true, "size": 0, "opacity": 1},
   "encoding": {
     "color": {"field": "label", "type": "nominal", "scale": {"domain": ["(0.8\u2002<\u2002z\u2002<\u20022.1)","(1.6\u2002<\u2002z\u2002<\u20023.1)","SGC","NGC","k\u2098\u1d62\u2099","k\u2098\u2090\u2093","(0.8\u2002<\u2002z\u2002<\u20023.1)"], "range": ["#ff0000","#8b0000","#5f9ea0","#4169e1","#ff7f50","#ff8c00","#000000"]}, "legend": {"orient": "none", "legendX": 23, "legendY": 7, "title": null, "labelFont": "Liberation Serif", "labelFontSize": 20, "labelColor": "black", "symbolSize": 576, "symbolStrokeWidth": 0, "rowPadding": 7.6, "labelOffset": 14, "labelLimit": 0}},
     "shape": {"field": "label", "type": "nominal", "scale": {"domain": ["(0.8\u2002<\u2002z\u2002<\u20022.1)","(1.6\u2002<\u2002z\u2002<\u20023.1)","SGC","NGC","k\u2098\u1d62\u2099","k\u2098\u2090\u2093","(0.8\u2002<\u2002z\u2002<\u20023.1)"], "range": ["M-1,-0.0625H-0.58V0.0625H-1Z M-0.29,-0.0625H0.13V0.0625H-0.29Z M0.42,-0.0625H0.84V0.0625H0.42Z","M-1,-0.0625H-0.58V0.0625H-1Z M-0.29,-0.0625H0.13V0.0625H-0.29Z M0.42,-0.0625H0.84V0.0625H0.42Z","M-1,-0.7H1V0.7H-1Z","M-1,-0.7H1V0.7H-1Z","M-1,-0.7H1V0.7H-1Z","M-1,-0.7H1V0.7H-1Z","M-1,-0.125H1V0.125H-1Z"]}, "legend": {"orient": "none", "legendX": 23, "legendY": 7, "title": null, "labelFont": "Liberation Serif", "labelFontSize": 20, "labelColor": "black", "symbolSize": 576, "symbolStrokeWidth": 0, "rowPadding": 7.6, "labelOffset": 14, "labelLimit": 0}}
   }
  },
  {
   "width": 214, "height": 215,
   "data": {"name": "bcn"},
   "encoding": {
     "x": {"field": "x", "type": "quantitative", "scale": {"domain": [-94.3, 115.2], "nice": false, "zero": false}, "axis": null},
     "y": {"field": "y", "type": "quantitative", "scale": {"domain": [2.085, 3.56], "nice": false, "zero": false}, "axis": null},
     "detail": {"field": "l"},
     "order": {"value": null}
   },
   "layer": [
     {"transform": [{"filter": "datum.s=='S'"}], "mark": {"type": "line", "interpolate": "cardinal-closed", "fill": "#5f9ea0", "fillOpacity": 0.47, "stroke": "#5f9ea0", "strokeWidth": 0.8, "strokeOpacity": 0.6, "clip": true},
      "encoding": {
        "x": {"field": "x", "type": "quantitative", "scale": {"domain": [-94.3, 115.2], "nice": false, "zero": false}, "axis": {"orient": "bottom", "values": [-60, 0, 60], "title": ["\u2007loc", "fNL"], "titleFontSize": 18, "titleLineHeight": 18, "titlePadding": 7}},
        "y": {"field": "y", "type": "quantitative", "scale": {"domain": [2.085, 3.56], "nice": false, "zero": false}, "axis": {"orient": "left", "values": [2.5, 3.0], "format": ".1f", "title": "b\u2081", "titleFontStyle": "italic", "titlePadding": 16}}
      }},
     {"transform": [{"filter": "datum.s=='N'"}], "mark": {"type": "line", "interpolate": "cardinal-closed", "fill": "#4169e1", "fillOpacity": 0.47, "stroke": "#4169e1", "strokeWidth": 0.8, "strokeOpacity": 0.6, "clip": true}},
     {"transform": [{"filter": "datum.s=='n'"}], "mark": {"type": "line", "interpolate": "cardinal-closed", "fill": "#ff7f50", "fillOpacity": 0.47, "stroke": "#ff7f50", "strokeWidth": 0.8, "strokeOpacity": 0.6, "clip": true}},
     {"transform": [{"filter": "datum.s=='m'"}], "mark": {"type": "line", "interpolate": "cardinal-closed", "fill": "#ff8c00", "fillOpacity": 0.47, "stroke": "#ff8c00", "strokeWidth": 0.8, "strokeOpacity": 0.6, "clip": true}},
     {"transform": [{"filter": "datum.s=='r'||datum.s=='d'"}], "mark": {"type": "line", "interpolate": "cardinal-closed", "strokeWidth": 1.6, "strokeDash": [5, 3], "clip": true},
      "encoding": {"color": {"field": "s", "type": "nominal", "scale": {"domain": ["r","d","S","N","n","m","k"], "range": ["#ff0000","#8b0000","#5f9ea0","#4169e1","#ff7f50","#ff8c00","#000000"]}, "legend": null}}},
     {"transform": [{"filter": "datum.s=='k'"}], "mark": {"type": "line", "interpolate": "cardinal-closed", "strokeWidth": 3, "stroke": "black", "clip": true},
      "encoding": {
        "x": {"field": "x", "type": "quantitative", "scale": {"domain": [-94.3, 115.2], "nice": false, "zero": false}, "axis": {"orient": "top", "values": [-60, 0, 60], "labels": false, "title": null}},
        "y": {"field": "y", "type": "quantitative", "scale": {"domain": [2.085, 3.56], "nice": false, "zero": false}, "axis": {"orient": "right", "values": [2.5, 3.0], "labels": false, "title": null}}
      }}
   ],
   "resolve": {"axis": {"x": "independent", "y": "independent"}}
  },
  {
   "width": 212, "height": 215,
   "data": {"name": "bbn"},
   "encoding": {
     "x": {"field": "x", "type": "quantitative", "scale": {"domain": [2.085, 3.56], "nice": false, "zero": false}, "axis": {"values": [2.5, 3.0], "format": ".1f", "title": "b\u2081", "titleFontStyle": "italic", "titlePadding": 16}},
     "y": {"field": "p", "type": "quantitative", "scale": {"domain": [0, 1.11], "nice": false}, "axis": null},
     "color": {"field": "s", "type": "nominal", "scale": {"domain": ["r","d","S","N","n","m","k"], "range": ["#ff0000","#8b0000","#5f9ea0","#4169e1","#ff7f50","#ff8c00","#000000"]}, "legend": null}
   },
   "layer": [
     {"transform": [{"filter": "datum.s=='S'||datum.s=='N'||datum.s=='n'||datum.s=='m'"}], "mark": {"type": "line", "interpolate": "monotone", "strokeWidth": 1.3, "clip": true}},
     {"transform": [{"filter": "datum.s=='r'||datum.s=='d'"}], "mark": {"type": "line", "interpolate": "monotone", "strokeWidth": 1.7, "strokeDash": [5, 3], "clip": true}},
     {"transform": [{"filter": "datum.s=='k'"}], "mark": {"type": "line", "interpolate": "monotone", "strokeWidth": 3, "clip": true}}
   ]
  }
 ]
}
]
}
